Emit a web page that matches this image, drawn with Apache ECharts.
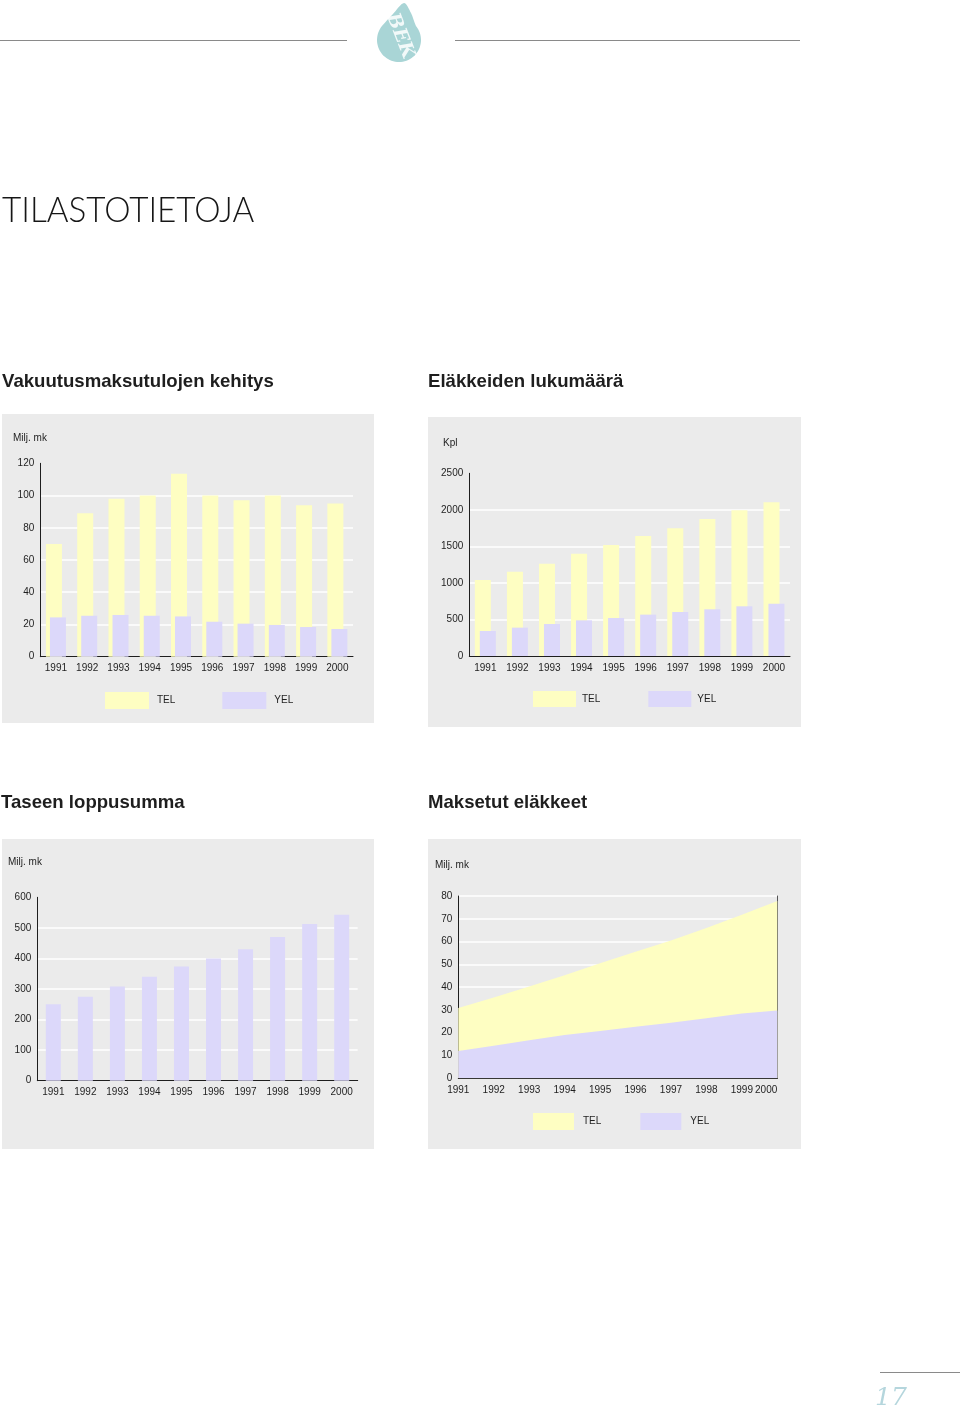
<!DOCTYPE html>
<html><head><meta charset="utf-8">
<script src="https://cdn.jsdelivr.net/npm/echarts@6/dist/echarts.min.js"></script>
<style>html,body{margin:0;padding:0;background:#fff}#c{width:960px;height:1409px}</style>
</head><body><div id="c"></div><script>
// ---- data ----
const years = ['1991','1992','1993','1994','1995','1996','1997','1998','1999','2000'];
const premiumTEL = [70, 89, 98, 100, 113.5, 100, 97, 100, 94, 95];
const premiumYEL = [24.4, 25.4, 25.9, 25.4, 25, 21.7, 20.5, 19.7, 18.4, 17.2];
const pensionsTEL = [1040, 1154, 1264, 1400, 1519, 1642, 1747, 1875, 1994, 2103];
const pensionsYEL = [342, 388, 438, 488, 520, 566, 602, 639, 680, 716];
const balanceTotal = [250, 275, 308, 340, 374, 400, 430, 470, 513, 543];
const paidTEL = [30.8, 35.5, 40.3, 45.2, 50.5, 55.5, 60.5, 66, 71.8, 77.8];
const paidYEL = [12, 14.3, 16.7, 19, 20.8, 22.6, 24.4, 26.3, 28.4, 29.7];
const premiumAxis = {max: 120, interval: 20};
const pensionsAxis = {max: 2500, interval: 500};
const balanceAxis = {max: 600, interval: 100};
const paidAxis = {max: 80, interval: 10};
const legendNames = ['TEL', 'YEL'];

// ---- styles ----
const YELLOW = '#fefec2';
const LAVENDER = '#dcd8fa';
const PANEL = '#ebebeb';
const INK = '#1e1e1e';
const FONT = 'Liberation Sans';

function valAxis(gi, ax, showMax) {
  return {type:'value', gridIndex:gi, position:'left', min:0, max:ax.max, interval:ax.interval,
    axisLine:{show:true, lineStyle:{color:INK, width:1}}, axisTick:{show:false},
    axisLabel:{fontSize:10, color:INK, margin:6, fontFamily:FONT, formatter:function(v){return String(v);}},
    splitLine:{show:true, showMinLine:false, showMaxLine:!!showMax, lineStyle:{color:'#ffffff', width:1.5}}};
}
function catAxis(gi, gap) {
  const lab = {fontSize:10, color:INK, margin:7, fontFamily:FONT, interval:0};
  if (!gap) lab.alignMaxLabel = 'right';
  return {type:'category', gridIndex:gi, data:years, boundaryGap:gap,
    axisLine:{show:true, lineStyle:{color:INK, width:1}}, axisTick:{show:false},
    axisLabel:lab, splitLine:{show:false}};
}
function legend(left, top, w, h, gap, pad) {
  return {left:left, top:top, padding:0, orient:'horizontal', itemWidth:w, itemHeight:h, itemGap:gap, icon:'rect',
    selectedMode:false, data:legendNames,
    textStyle:{fontSize:10, color:INK, fontFamily:FONT, padding:[0,0,0,pad]}};
}
function txt(x, y, s, size, weight) {
  return {type:'text', x:x, y:y, style:{text:s, fontSize:size, fontWeight:weight||'normal',
    fontFamily:FONT, fill:INK, verticalAlign:'middle', align:'left'}};
}
// logo drop outline (decoration)
const dropPts = [[404,3],[411,13]];
for (let a = -40; a <= 220; a += 10) {
  const r = a * Math.PI / 180;
  dropPts.push([399 + 22*Math.cos(r), 40 + 22*Math.sin(r)]);
}
dropPts.push([393,14]);

const chart = echarts.init(document.getElementById('c'), null, {renderer:'canvas'});
chart.setOption({
  backgroundColor:'#ffffff',
  animation:false,
  textStyle:{fontFamily:FONT},
  grid:[
    {left:40.3, top:463.3, width:312.7, height:193.4},
    {left:469.3, top:473.3, width:320.7, height:182.7},
    {left:37.3, top:897.3, width:320.4, height:183.4},
    {left:458.3, top:896, width:319, height:182.3}
  ],
  xAxis:[catAxis(0,true), catAxis(1,true), catAxis(2,true), catAxis(3,false)],
  yAxis:[valAxis(0,premiumAxis,false), valAxis(1,pensionsAxis,false), valAxis(2,balanceAxis,false), valAxis(3,paidAxis,true),
    {type:'value', gridIndex:3, position:'right', min:0, max:paidAxis.max, interval:paidAxis.interval,
     axisLine:{show:true, lineStyle:{color:'#555', width:1}}, axisTick:{show:false}, axisLabel:{show:false}, splitLine:{show:false}}],
  legend:[legend(105,692,44,17,47,3), legend(533,691,43,16,48,1), legend(533,1113,41,17,39,4)],
  series:[
    {name:'TEL', type:'bar', xAxisIndex:0, yAxisIndex:0, data:premiumTEL, barWidth:16, barGap:'-75%', itemStyle:{color:YELLOW}},
    {name:'YEL', type:'bar', xAxisIndex:0, yAxisIndex:0, data:premiumYEL, barWidth:16, barGap:'-75%', itemStyle:{color:LAVENDER}},
    {name:'TEL', type:'bar', xAxisIndex:1, yAxisIndex:1, data:pensionsTEL, barWidth:16, barGap:'-69%', itemStyle:{color:YELLOW}},
    {name:'YEL', type:'bar', xAxisIndex:1, yAxisIndex:1, data:pensionsYEL, barWidth:16, barGap:'-69%', itemStyle:{color:LAVENDER}},
    {name:'Tase', type:'bar', xAxisIndex:2, yAxisIndex:2, data:balanceTotal, barWidth:15, itemStyle:{color:LAVENDER}},
    {name:'TEL', type:'line', xAxisIndex:3, yAxisIndex:3, data:paidTEL, symbol:'none', lineStyle:{width:0, color:YELLOW}, itemStyle:{color:YELLOW}, areaStyle:{color:YELLOW, opacity:1}, z:1},
    {name:'YEL', type:'line', xAxisIndex:3, yAxisIndex:3, data:paidYEL, symbol:'none', lineStyle:{width:0, color:LAVENDER}, itemStyle:{color:LAVENDER}, areaStyle:{color:LAVENDER, opacity:1}, z:1}
  ],
  graphic:[
    {type:'rect', shape:{x:2, y:414, width:372, height:309}, style:{fill:PANEL}, z:-10, silent:true},
    {type:'rect', shape:{x:428, y:417, width:373, height:310}, style:{fill:PANEL}, z:-10, silent:true},
    {type:'rect', shape:{x:2, y:839, width:372, height:310}, style:{fill:PANEL}, z:-10, silent:true},
    {type:'rect', shape:{x:428, y:839, width:373, height:310}, style:{fill:PANEL}, z:-10, silent:true},
    {type:'line', shape:{x1:0, y1:40.5, x2:347, y2:40.5}, style:{stroke:'#8a8a8a', lineWidth:1}},
    {type:'line', shape:{x1:455, y1:40.5, x2:800, y2:40.5}, style:{stroke:'#8a8a8a', lineWidth:1}},
    {type:'polygon', shape:{points:dropPts, smooth:0.3}, style:{fill:'#a9d5d6'}},
    {type:'text', x:400, y:36, rotation:-1.2, style:{text:'BEK', fontSize:19, fontWeight:'bold', fontStyle:'italic', fontFamily:'DejaVu Serif', fill:'#ffffff', align:'center', verticalAlign:'middle', opacity:0.85}},
    {type:'text', x:2, y:211, scaleX:0.95, style:{text:'TILASTOTIETOJA', fontSize:35, fontWeight:300, fontFamily:'Lato', fill:'#161616', verticalAlign:'middle', align:'left'}},
    txt(2, 382, 'Vakuutusmaksutulojen kehitys', 18.6, 'bold'),
    txt(428, 382, 'Eläkkeiden lukumäärä', 18.6, 'bold'),
    txt(1, 803, 'Taseen loppusumma', 18.6, 'bold'),
    txt(428, 803, 'Maksetut eläkkeet', 18.6, 'bold'),
    txt(13, 438, 'Milj. mk', 10),
    txt(443, 443, 'Kpl', 10),
    txt(8, 862, 'Milj. mk', 10),
    txt(435, 865, 'Milj. mk', 10),
    {type:'line', shape:{x1:880, y1:1372.5, x2:960, y2:1372.5}, style:{stroke:'#8a8a8a', lineWidth:1}},
    {type:'text', x:875, y:1398, style:{text:'17', fontSize:25, fontStyle:'italic', fontFamily:'DejaVu Serif', fill:'#b5d6dd', verticalAlign:'middle', align:'left'}}
  ]
});
</script></body></html>
